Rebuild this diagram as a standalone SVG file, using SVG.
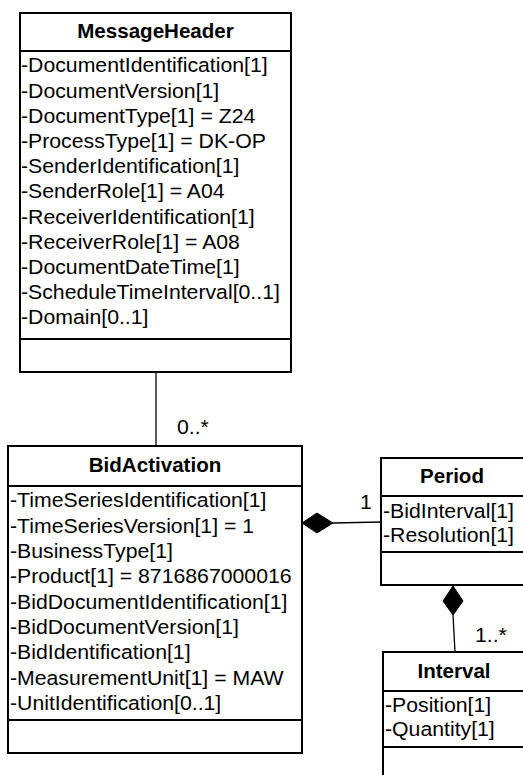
<svg xmlns="http://www.w3.org/2000/svg" width="523" height="775" viewBox="0 0 523 775">
<style>
.box{fill:#fff;stroke:#000;stroke-width:2}
.div{stroke:#000;stroke-width:2;fill:none}
.conn{stroke:#000;stroke-width:1.3;fill:none}
.dia{fill:#000;stroke:#000;stroke-width:1}
text{font-family:"Liberation Sans",Arial,sans-serif;fill:#000}
.t{font-size:19.5px;font-weight:bold;text-anchor:middle}
.a{font-size:19.5px}
</style>
<rect width="523" height="775" fill="#fff"/>
<g id="connectors">
<line class="conn" x1="156" y1="372" x2="156" y2="446"/>
<g transform="translate(177,434) scale(1.09,1)"><text class="a">0..*</text></g>
<line class="conn" x1="333" y1="523" x2="381" y2="522"/>
<polygon class="dia" points="302,523 317,513 333,523 317,533"/>
<g transform="translate(360,509) scale(1.09,1)"><text class="a">1</text></g>
<line class="conn" x1="453" y1="615" x2="455" y2="652"/>
<polygon class="dia" points="453,586 463,601 453,615 443,601"/>
<g transform="translate(475,642) scale(1.09,1)"><text class="a">1..*</text></g>
</g>
<g id="MessageHeader">
<rect class="box" x="20" y="13" width="271" height="359"/>
<line class="div" x1="20" y1="51" x2="291" y2="51"/>
<line class="div" x1="20" y1="339" x2="291" y2="339"/>
<g transform="translate(155.5,0) scale(1.055,1)"><text class="t" x="0" y="38.5">MessageHeader</text></g>
<g transform="translate(21,0) scale(1.09,1)">
<text class="a" y="72.5">-DocumentIdentification[1]</text>
<text class="a" y="97.7">-DocumentVersion[1]</text>
<text class="a" y="122.9">-DocumentType[1] = Z24</text>
<text class="a" y="148.1">-ProcessType[1] = DK-OP</text>
<text class="a" y="173.3">-SenderIdentification[1]</text>
<text class="a" y="198.5">-SenderRole[1] = A04</text>
<text class="a" y="223.7">-ReceiverIdentification[1]</text>
<text class="a" y="248.9">-ReceiverRole[1] = A08</text>
<text class="a" y="274.1">-DocumentDateTime[1]</text>
<text class="a" y="299.3">-ScheduleTimeInterval[0..1]</text>
<text class="a" y="324.5">-Domain[0..1]</text>
</g>
</g>
<g id="BidActivation">
<rect class="box" x="8" y="446" width="294" height="307"/>
<line class="div" x1="8" y1="486" x2="302" y2="486"/>
<line class="div" x1="8" y1="720" x2="302" y2="720"/>
<g transform="translate(155,0) scale(1.055,1)"><text class="t" x="0" y="472">BidActivation</text></g>
<g transform="translate(10,0) scale(1.09,1)">
<text class="a" y="507.5">-TimeSeriesIdentification[1]</text>
<text class="a" y="532.8">-TimeSeriesVersion[1] = 1</text>
<text class="a" y="558.1">-BusinessType[1]</text>
<text class="a" y="583.4">-Product[1] = 8716867000016</text>
<text class="a" y="608.7">-BidDocumentIdentification[1]</text>
<text class="a" y="634">-BidDocumentVersion[1]</text>
<text class="a" y="659.3">-BidIdentification[1]</text>
<text class="a" y="684.6">-MeasurementUnit[1] = MAW</text>
<text class="a" y="709.9">-UnitIdentification[0..1]</text>
</g>
</g>
<g id="Period">
<rect class="box" x="381" y="458" width="143" height="127"/>
<line class="div" x1="381" y1="496" x2="524" y2="496"/>
<line class="div" x1="381" y1="552" x2="524" y2="552"/>
<g transform="translate(452,0) scale(1.055,1)"><text class="t" x="0" y="483.5">Period</text></g>
<g transform="translate(383,0) scale(1.09,1)">
<text class="a" y="518.5">-BidInterval[1]</text>
<text class="a" y="542.5">-Resolution[1]</text>
</g>
</g>
<g id="Interval">
<rect class="box" x="383" y="652" width="141" height="130"/>
<line class="div" x1="383" y1="691" x2="524" y2="691"/>
<line class="div" x1="383" y1="747" x2="524" y2="747"/>
<g transform="translate(454,0) scale(1.055,1)"><text class="t" x="0" y="678">Interval</text></g>
<g transform="translate(385,0) scale(1.09,1)">
<text class="a" y="712.5">-Position[1]</text>
<text class="a" y="736.5">-Quantity[1]</text>
</g>
</g>
</svg>
